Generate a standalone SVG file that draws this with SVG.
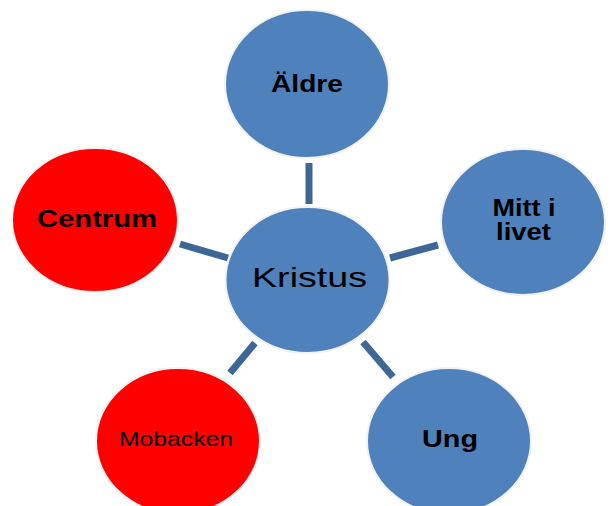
<svg xmlns="http://www.w3.org/2000/svg" width="615" height="506" viewBox="0 0 615 506">
  <style>
    .blue { fill: #4F81BD; stroke: #f2f2f2; stroke-width: 2; }
    .red { fill: #FF0000; stroke: #f2f2f2; stroke-width: 2; }
    .conn { stroke: #3C6797; stroke-width: 7; fill: none; }
    .lbl { font-family: "Liberation Sans", Arial, sans-serif; fill: #000; text-anchor: middle; }
    .b { font-weight: bold; font-size: 23px; }
  </style>
  <rect width="615" height="506" fill="#ffffff"/>
  <g id="connectors">
    <line class="conn" x1="309" y1="163" x2="309" y2="204"/>
    <line class="conn" x1="180" y1="244" x2="228" y2="258"/>
    <line class="conn" x1="390" y1="258" x2="438" y2="245"/>
    <line class="conn" x1="255" y1="343" x2="230" y2="373"/>
    <line class="conn" x1="363" y1="342" x2="393" y2="377"/>
  </g>
  <g id="aldre">
    <ellipse class="blue" cx="307" cy="84" rx="82" ry="74"/>
    <text class="lbl b" x="307" y="92" textLength="72" lengthAdjust="spacingAndGlyphs">Äldre</text>
  </g>
  <g id="centrum">
    <ellipse class="red" cx="95" cy="220" rx="83" ry="72"/>
    <text class="lbl b" x="97" y="227" textLength="120" lengthAdjust="spacingAndGlyphs">Centrum</text>
  </g>
  <g id="mitt-i-livet">
    <ellipse class="blue" cx="523" cy="222" rx="82" ry="73"/>
    <text class="lbl b" x="524" y="216" textLength="63" lengthAdjust="spacingAndGlyphs">Mitt i</text>
    <text class="lbl b" x="523.5" y="240" textLength="55" lengthAdjust="spacingAndGlyphs">livet</text>
  </g>
  <g id="kristus">
    <ellipse class="blue" cx="307.5" cy="280" rx="82" ry="73"/>
    <text class="lbl" x="309.5" y="287" font-size="28" textLength="115" lengthAdjust="spacingAndGlyphs">Kristus</text>
  </g>
  <g id="mobacken">
    <ellipse class="red" cx="178" cy="441" rx="82" ry="73"/>
    <text class="lbl" x="176" y="446" font-size="21" textLength="114" lengthAdjust="spacingAndGlyphs">Mobacken</text>
  </g>
  <g id="ung">
    <ellipse class="blue" cx="449" cy="441" rx="82" ry="73"/>
    <text class="lbl b" x="450" y="447" font-size="24" textLength="56" lengthAdjust="spacingAndGlyphs">Ung</text>
  </g>
</svg>
